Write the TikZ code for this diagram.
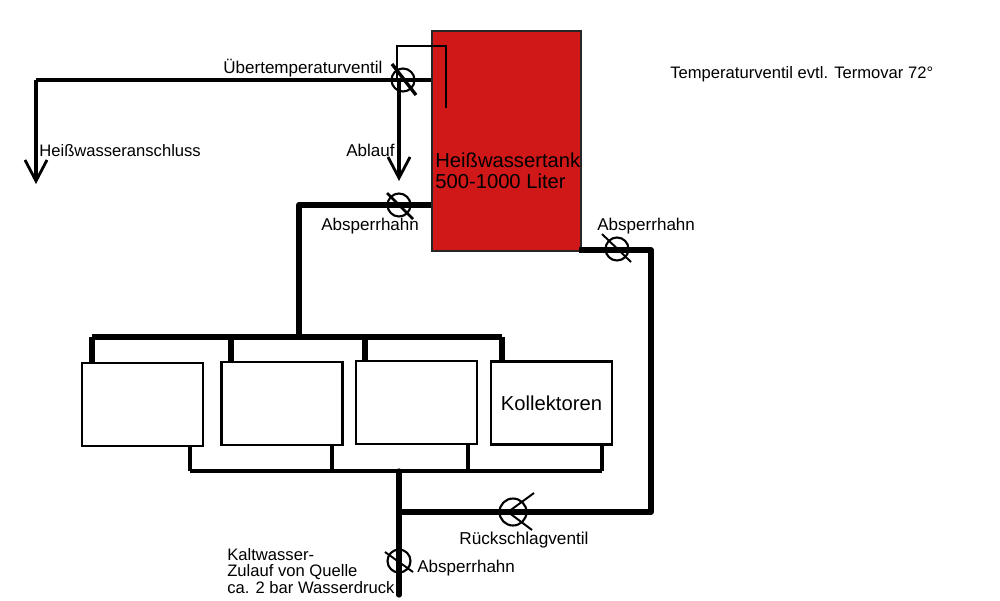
\documentclass[tikz,border=0pt]{standalone}
\usepackage{fontspec}
\setmainfont{Liberation Sans}
\usetikzlibrary{arrows.meta,positioning}

\begin{document}
\begin{tikzpicture}[x=0.02cm, y=-0.02cm, every node/.style={font=\fontsize{9.7}{9.4}\selectfont, inner sep=0pt},
  tank/.style={draw=black!85, line width=1.1pt, fill=tankred, minimum width=2.98cm, minimum height=4.4cm},
  collector/.style={draw, line width=1.6pt, minimum width=2.42cm, minimum height=1.66cm},
  valve/.style={draw, circle, line width=1.2pt, minimum size=0.46cm},
  checkvalve/.style={draw, circle, line width=1.2pt, minimum size=0.54cm},
  label/.style={anchor=west, align=left},
  bigtext/.style={font=\fontsize{11.5}{11.9}\selectfont},
  smalltext/.style={font=\fontsize{9.45}{9.4}\selectfont},
  pipe/.style={line width=3pt, line join=round},
  mainpipe/.style={line width=3.5pt, line join=round},
  thinpipe/.style={line width=1.8pt, line join=round},
  sensor/.style={line width=1.1pt},
  slash/.style={line width=1.1pt},
  flow/.style={-{Straight Barb[length=4.2mm, width=4.4mm, line width=1.6pt]}}]
\definecolor{tankred}{HTML}{D01818}
\useasboundingbox (0,0) rectangle (1000,600);
% tank and collectors
\node[tank] (tank) at (506.5,141) {};
\node[collector] (coll1) at (142.5,404.5) {};
\node[collector] (coll2) at (282,403.5) {};
\node[collector] (coll3) at (416.5,402.5) {};
\node[collector, bigtext] (coll4) at (551.5,403) {Kollektoren};
\node[label, bigtext] (tanktext) at (435,170.5) {Heißwassertank\\500-1000 Liter};
% junctions
\coordinate (hot) at (36,80);
\coordinate (hotend) at (36,184);
\coordinate (valvetop) at (399,80);
\coordinate (drain) at (399,181);
\coordinate (loopa) at (397,46);
\coordinate (loopb) at (446,46);
\coordinate (loopc) at (446,108);
\coordinate (corner) at (299,205);
\coordinate (bara) at (92,337);
\coordinate (barb) at (231,337);
\coordinate (barc) at (365,337);
\coordinate (bard) at (502,337);
\coordinate (cola) at (190,471);
\coordinate (colb) at (332,471);
\coordinate (colc) at (468,471);
\coordinate (cold) at (602,471);
\coordinate (feed) at (399,471);
\coordinate (feedend) at (399,595);
\coordinate (branch) at (399,512);
\coordinate (back) at (651,512);
\coordinate (backtop) at (651,250);
\coordinate (tankout) at (579,250);
% pipes
\draw[thinpipe] (tank.west |- hot) -- (hot);
\draw[thinpipe, flow] (hot) -- (hotend);
\draw[thinpipe, flow] (valvetop) -- (drain);
\draw[sensor] (397,80) -- (loopa) -- (loopb) -- (loopc);
\draw[mainpipe] (tank.west |- corner) -- (corner) -- (corner |- bara);
\draw[pipe] (bara) -- (bard);
\foreach \a/\b in {bara/coll1,barb/coll2,barc/coll3,bard/coll4}{\draw[pipe] (\a) -- (\a |- \b.north);}
\foreach \a/\b in {cola/coll1,colb/coll2,colc/coll3,cold/coll4}{\draw[thinpipe] (\b.south -| \a) -- (\a);}
\draw[thinpipe] (cola) -- (cold);
\draw[pipe, line cap=round] (feed) -- (feedend);
\draw[pipe] (branch) -- (back) -- (backtop) -- (tankout);
% valves
\node[valve] (vover) at (403,80) {};
\node[valve] (vdrain) at (399,205) {};
\node[valve] (vout) at (617,249) {};
\node[valve] (vfeed) at (399,561) {};
\node[checkvalve] (vcheck) at (513,512) {};
\draw[slash, line width=1.9pt] (392,64) -- (416,95);
\draw[slash, line width=1.5pt] (387,193) -- (413,219);
\draw[slash] (602,234) -- (631,262);
\draw[slash] (385,552) -- (413,572);
\draw[slash] (534,493) -- (508,512) -- (532,530);
% labels
\node[label] (lover) at (223,68) {Übertemperaturventil};
\node[label, smalltext] (lhot) at (39,151) {Heißwasseranschluss};
\node[label] (ldrain) at (346,150) {Ablauf};
\node[label] (lvdrain) at (321,226) {Absperrhahn};
\node[label] (lvout) at (597,226) {Absperrhahn};
\node[label, smalltext] (ltemp) at (670,74) {Temperaturventil evtl. Termovar 72°};
\node[label, font=\fontsize{9.8}{9.4}\selectfont] (lcheck) at (459,540) {Rückschlagventil};
\node[label] (lvfeed) at (417,568) {Absperrhahn};
\node[label, smalltext] (lfeed) at (227,571) {Kaltwasser-\\Zulauf von Quelle\\ca. 2 bar Wasserdruck};
\end{tikzpicture}
\end{document}
